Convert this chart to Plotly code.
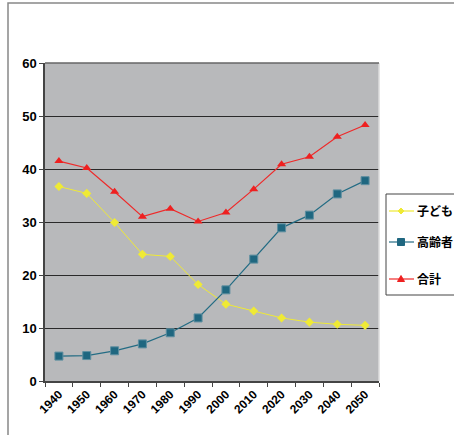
import plotly.graph_objects as go

years = ["1940", "1950", "1960", "1970", "1980", "1990", "2000", "2010", "2020", "2030", "2040", "2050"]
children = [36.7, 35.4, 29.9, 23.9, 23.5, 18.2, 14.5, 13.2, 11.9, 11.1, 10.7, 10.5]
elderly = [4.7, 4.8, 5.7, 7.0, 9.1, 11.9, 17.2, 23.0, 28.9, 31.3, 35.3, 37.8]
total = [41.5, 40.2, 35.7, 31.0, 32.5, 30.1, 31.8, 36.2, 40.9, 42.3, 46.1, 48.3]
names = ["子ども", "高齢者", "合計"]

FONT = "Liberation Sans, Arial, Noto Sans CJK JP, sans-serif"
YELLOW, BLUE, RED = "#EFEA35", "#1F6780", "#EE2020"

W, H = 454, 435
L, R, T, B = 45, 75, 63, 54
PW, PH = W - L - R, H - T - B


def px(x):
    return (x - L) / PW


def py(y):
    return (H - B - y) / PH


fig = go.Figure()
fig.add_trace(go.Scatter(x=years, y=children, name=names[0], mode="lines+markers",
                         line=dict(color=YELLOW, width=1),
                         marker=dict(symbol="diamond", size=7, color=YELLOW)))
fig.add_trace(go.Scatter(x=years, y=elderly, name=names[1], mode="lines+markers",
                         line=dict(color="#236C84", width=1.2),
                         marker=dict(symbol="square", size=8, color=BLUE,
                                     line=dict(color="#5E8FA0", width=1))))
fig.add_trace(go.Scatter(x=years, y=total, name=names[2], mode="lines+markers",
                         line=dict(color="#EE2A2A", width=1.2),
                         marker=dict(symbol="triangle-up", size=8, color=RED)))

# manual legend (reference legend runs off the right edge)
leg_y = [211, 242, 279]
leg_colors = [YELLOW, "#236C84", "#EE2A2A"]
marker_paths = ["M-3,0 L0,3 L3,0 L0,-3 Z", "M-3.5,-3.5 L3.5,-3.5 L3.5,3.5 L-3.5,3.5 Z", "M-3.5,-2.5 L3.5,-2.5 L0,3.5 Z"]
marker_fill = [YELLOW, BLUE, RED]
shapes = [
    dict(type="line", xref="paper", yref="paper", x0=1, x1=1, y0=0, y1=1,
         line=dict(color="#DDDDDD", width=1.5)),
    dict(type="line", xref="paper", yref="paper", x0=0, x1=1, y0=1, y1=1,
         line=dict(color="#666666", width=1.5)),
    dict(type="rect", xref="paper", yref="paper", x0=px(8), x1=px(470), y0=py(450), y1=py(3),
         line=dict(color="#888888", width=1.5), layer="below"),
    dict(type="rect", xref="paper", yref="paper", x0=px(386), x1=px(470), y0=py(295), y1=py(194),
         line=dict(color="#444444", width=1), fillcolor="white"),
]
annotations = []
for i, nm in enumerate(names):
    yy = py(leg_y[i])
    shapes.append(dict(type="line", xref="paper", yref="paper", x0=px(389), x1=px(414), y0=yy, y1=yy,
                       line=dict(color=leg_colors[i], width=1.2)))
    shapes.append(dict(type="path", xref="paper", yref="paper", xsizemode="pixel", ysizemode="pixel",
                       xanchor=px(401), yanchor=yy, path=marker_paths[i],
                       fillcolor=marker_fill[i], line=dict(color=marker_fill[i], width=1)))
    annotations.append(dict(xref="paper", yref="paper", x=px(415), y=yy, xanchor="left", yanchor="middle",
                            text=nm, showarrow=False,
                            font=dict(family=FONT, size=12, color="black", weight="bold")))

fig.update_layout(
    width=W, height=H,
    margin=dict(l=L, r=R, t=T, b=B, autoexpand=False),
    paper_bgcolor="white",
    plot_bgcolor="#B8B9BB",
    font=dict(family=FONT, size=12, color="black"),
    showlegend=False,
    xaxis=dict(type="category", range=[-0.5, 11.5], tickangle=-45,
               tickfont=dict(family=FONT, size=12, color="black", weight="bold"),
               showgrid=False, showline=True, linecolor="#444", linewidth=1.5,
               ticks="outside", ticklen=4, tickcolor="#444", tickson="boundaries"),
    yaxis=dict(range=[0, 60], dtick=10, tickfont=dict(family=FONT, size=13, color="black", weight="bold"),
               showgrid=True, gridcolor="#2a2a2a", gridwidth=1.2,
               showline=True, linecolor="#444", linewidth=1.5,
               ticks="outside", ticklen=4, tickcolor="#444", zeroline=False),
    shapes=shapes,
    annotations=annotations,
)

fig.write_html("out.html")
